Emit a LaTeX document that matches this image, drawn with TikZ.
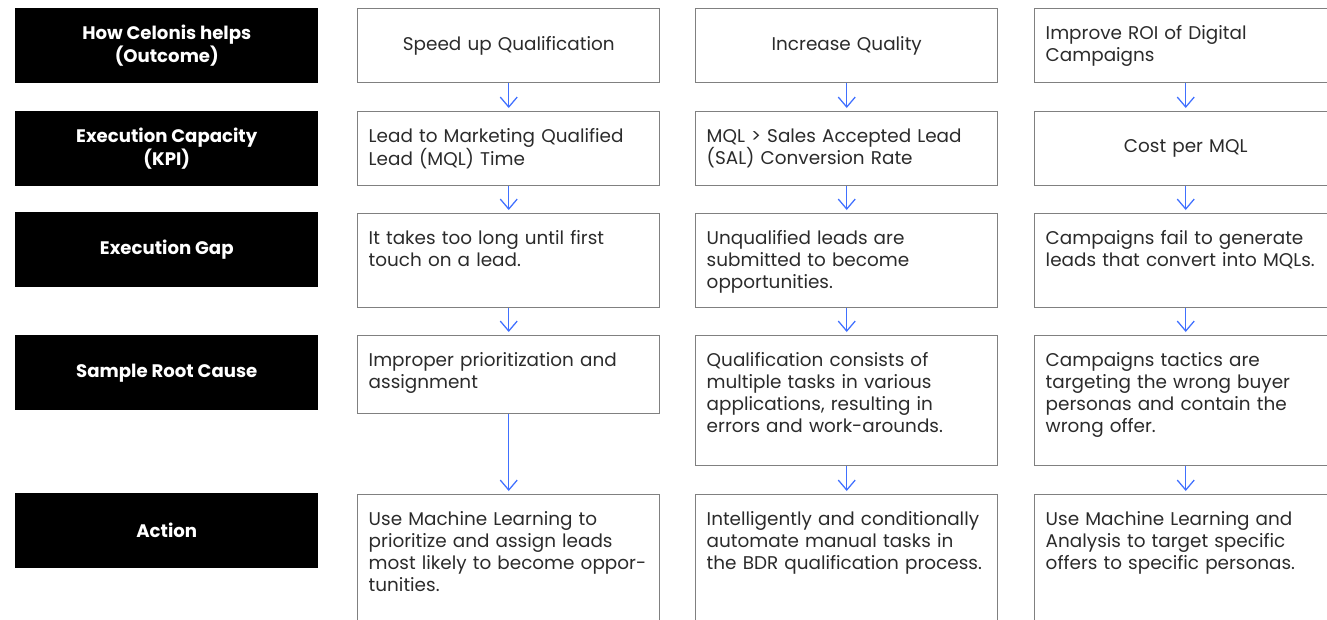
\documentclass[tikz,border=0pt]{standalone}
\usepackage{fontspec}
\setmainfont{Poppins}
\usetikzlibrary{arrows.meta}

\definecolor{boxgray}{HTML}{808080}
\definecolor{flowblue}{HTML}{4070FF}
\definecolor{textgray}{HTML}{2B2B2B}

\tikzset{
  rowhead/.style={fill=black, draw=none, text=white, anchor=north west, inner sep=0pt,
    minimum width=227.25pt, minimum height=56.25pt, align=center,
    font=\bfseries\fontsize{13.6}{15.75}\selectfont},
  cell/.style={draw=boxgray, line width=1.1pt, fill=white, text=textgray, anchor=north west,
    inner xsep=8.25pt, inner ysep=0pt, text width=210pt, minimum width=226.5pt,
    minimum height=55.5pt, align=left, font=\fontsize{13.8}{16.5}\selectfont},
  midcell/.style={cell, align=center},
  topcell/.style={cell, minimum height=0pt, text height=23.25pt, text depth=#1},
  flow/.style={draw=flowblue, line width=0.95pt, -{Straight Barb[length=7.5pt, width=12.75pt]},
    shorten >=2.25pt}
}

\begin{document}
\begin{tikzpicture}[x=0.75pt, y=-0.75pt]
  \useasboundingbox (0,0) rectangle (1327,619);
  \clip (0,0) rectangle (1327,619);

  % row headings
  \node[rowhead] (hOutcome) at (15,8) {How Celonis helps\\(Outcome)};
  \node[rowhead] (hKpi) at (15,111) {Execution Capacity\\(KPI)};
  \node[rowhead] (hGap) at (15,212) {Execution Gap};
  \node[rowhead] (hCause) at (15,335) {Sample Root Cause};
  \node[rowhead] (hAction) at (15,493) {Action};

  % outcome
  \node[midcell] (speed) at (357,8) {Speed up Qualification};
  \node[midcell] (quality) at (695,8) {Increase Quality};
  \node[cell] (roi) at (1034,8) {Improve ROI of Digital\\Campaigns};

  % kpi
  \node[cell] (mqltime) at (357,111) {Lead to Marketing Qualified\\Lead (MQL) Time};
  \node[cell] (salrate) at (695,111) {MQL > Sales Accepted Lead\\(SAL) Conversion Rate};
  \node[midcell] (costmql) at (1034,111) {Cost per MQL};

  % gap
  \node[topcell=47.25pt] (firsttouch) at (357,213) {It takes too long until first\\touch on a lead.};
  \node[topcell=47.25pt] (unqualified) at (695,213) {Unqualified leads are\\submitted to become\\opportunities.};
  \node[topcell=47.25pt] (nomql) at (1034,213) {Campaigns fail to generate\\leads that convert into MQLs.};

  % root cause
  \node[topcell=35.25pt] (prioritize) at (357,335) {Improper prioritization and\\assignment};
  \node[topcell=74.25pt] (manualtasks) at (695,335) {Qualification consists of\\multiple tasks in various\\applications, resulting in\\errors and work-arounds.};
  \node[topcell=74.25pt] (wrongoffer) at (1034,335) {Campaigns tactics are\\targeting the wrong buyer\\personas and contain the\\wrong offer.};

  % action
  \node[topcell=89.25pt] (mlassign) at (357,494) {Use Machine Learning to\\prioritize and assign leads\\most likely to become oppor-\\tunities.};
  \node[topcell=89.25pt] (automate) at (695,494) {Intelligently and conditionally\\automate manual tasks in\\the BDR qualification process.};
  \node[topcell=89.25pt] (targeting) at (1034,494) {Use Machine Learning and\\Analysis to target specific\\offers to specific personas.};

  \draw[flow] (speed.south) -- (mqltime.north);
  \draw[flow] (mqltime.south) -- (firsttouch.north);
  \draw[flow] (firsttouch.south) -- (prioritize.north);
  \draw[flow] (prioritize.south) -- (mlassign.north);
  \draw[flow] (quality.south) -- (salrate.north);
  \draw[flow] (salrate.south) -- (unqualified.north);
  \draw[flow] (unqualified.south) -- (manualtasks.north);
  \draw[flow] (manualtasks.south) -- (automate.north);
  \draw[flow] (roi.south) -- (costmql.north);
  \draw[flow] (costmql.south) -- (nomql.north);
  \draw[flow] (nomql.south) -- (wrongoffer.north);
  \draw[flow] (wrongoffer.south) -- (targeting.north);
\end{tikzpicture}
\end{document}
